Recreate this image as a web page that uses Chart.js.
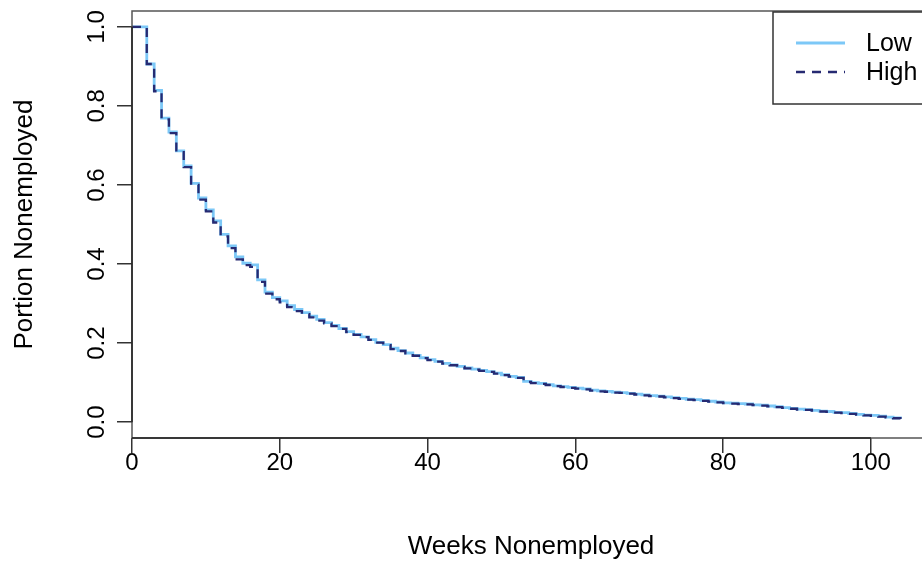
<!DOCTYPE html>
<html>
<head>
<meta charset="utf-8">
<title>Portion Nonemployed</title>
<script src="https://cdn.jsdelivr.net/npm/chart.js@4.4.0/dist/chart.umd.min.js"></script>
<style>
  html, body { margin: 0; padding: 0; background: #fff; overflow: hidden; }
  #wrap { width: 922px; height: 564px; overflow: hidden; }
  canvas { display: block; }
</style>
</head>
<body>
<div id="wrap"><canvas id="survChart" width="960" height="564"></canvas></div>
<script>
// Weeks since job loss (x) and share still nonemployed (y)
const weeks = [
  0, 1, 2, 3, 4, 5, 6, 7, 8, 9, 10, 11, 12, 13, 14, 15, 16, 17, 18, 19,
  20, 21, 22, 23, 24, 25, 26, 27, 28, 29, 30, 31, 32, 33, 34, 35, 36, 37, 38, 39,
  40, 41, 42, 43, 44, 45, 46, 47, 48, 49, 50, 51, 52, 53, 54, 55, 56, 57, 58, 59,
  60, 61, 62, 63, 64, 65, 66, 67, 68, 69, 70, 71, 72, 73, 74, 75, 76, 77, 78, 79,
  80, 81, 82, 83, 84, 85, 86, 87, 88, 89, 90, 91, 92, 93, 94, 95, 96, 97, 98, 99,
  100, 101, 102, 103, 104
];

const lowSurv = [
  1.000, 1.000, 0.906, 0.839, 0.769, 0.734, 0.686, 0.648, 0.604, 0.567, 0.537, 0.509, 0.475, 0.446, 0.418, 0.402, 0.398, 0.360, 0.329, 0.315,
  0.307, 0.295, 0.285, 0.277, 0.268, 0.260, 0.252, 0.245, 0.237, 0.229, 0.222, 0.216, 0.209, 0.202, 0.196, 0.187, 0.181, 0.175, 0.169, 0.163,
  0.158, 0.154, 0.149, 0.145, 0.141, 0.137, 0.134, 0.131, 0.128, 0.124, 0.120, 0.116, 0.113, 0.103, 0.100, 0.098, 0.095, 0.092, 0.090, 0.088,
  0.086, 0.084, 0.081, 0.079, 0.078, 0.076, 0.075, 0.073, 0.071, 0.069, 0.067, 0.066, 0.064, 0.062, 0.060, 0.058, 0.057, 0.055, 0.053, 0.051,
  0.049, 0.048, 0.047, 0.046, 0.044, 0.043, 0.041, 0.039, 0.037, 0.035, 0.033, 0.032, 0.030, 0.028, 0.027, 0.025, 0.024, 0.022, 0.020, 0.018,
  0.017, 0.015, 0.013, 0.011, 0.009
];

const highSurv = [
  1.000, 1.000, 0.906, 0.837, 0.766, 0.731, 0.683, 0.645, 0.600, 0.563, 0.533, 0.505, 0.470, 0.440, 0.412, 0.397, 0.393, 0.355, 0.325, 0.311,
  0.303, 0.291, 0.281, 0.273, 0.265, 0.257, 0.250, 0.243, 0.236, 0.228, 0.221, 0.215, 0.208, 0.201, 0.195, 0.185, 0.180, 0.174, 0.168, 0.162,
  0.157, 0.153, 0.148, 0.144, 0.140, 0.136, 0.133, 0.130, 0.127, 0.123, 0.119, 0.115, 0.112, 0.102, 0.099, 0.097, 0.094, 0.091, 0.089, 0.087,
  0.085, 0.083, 0.080, 0.078, 0.077, 0.075, 0.074, 0.072, 0.070, 0.068, 0.066, 0.065, 0.063, 0.061, 0.059, 0.057, 0.056, 0.054, 0.052, 0.050,
  0.048, 0.047, 0.046, 0.045, 0.043, 0.042, 0.040, 0.038, 0.036, 0.034, 0.032, 0.031, 0.029, 0.027, 0.026, 0.024, 0.023, 0.021, 0.019, 0.017,
  0.016, 0.014, 0.012, 0.010, 0.008
];

const seriesNames = ['Low', 'High'];
const xTicks = [0, 20, 40, 60, 80, 100];
const yTicks = [0, 0.2, 0.4, 0.6, 0.8, 1.0];

const FONT = '"Liberation Sans", Arial, Helvetica, sans-serif';
const LOW_COLOR = '#7cc8f7';
const HIGH_COLOR = '#262a72';

function toPoints(ys) {
  return weeks.map((w, i) => ({ x: w, y: ys[i] }));
}

// frame, axis lines and the boxed legend, R style
const framePlugin = {
  id: 'framePlugin',
  afterDatasetsDraw(chart) {
    const { ctx, chartArea: a, scales: { x, y } } = chart;
    ctx.save();

    ctx.strokeStyle = '#555';
    ctx.lineWidth = 1.5;
    ctx.strokeRect(a.left, a.top, a.right - a.left, a.bottom - a.top);

    ctx.strokeStyle = '#222';
    ctx.beginPath();
    ctx.moveTo(x.getPixelForValue(xTicks[0]), a.bottom);
    ctx.lineTo(x.getPixelForValue(xTicks[xTicks.length - 1]), a.bottom);
    ctx.moveTo(a.left, y.getPixelForValue(yTicks[0]));
    ctx.lineTo(a.left, y.getPixelForValue(yTicks[yTicks.length - 1]));
    ctx.stroke();

    // legend box
    const lx = 773, ly = a.top + 1, lw = 200, lh = 92;
    ctx.fillStyle = '#fff';
    ctx.fillRect(lx, ly, lw, lh);
    ctx.strokeStyle = '#333';
    ctx.lineWidth = 1.5;
    ctx.strokeRect(lx, ly, lw, lh);

    const rows = [43, 72];
    const legendOrder = [0, 1];
    legendOrder.forEach(i => {
      const ds = chart.data.datasets[i];
      ctx.strokeStyle = ds.borderColor;
      ctx.lineWidth = ds.borderWidth;
      ctx.setLineDash(ds.borderDash || []);
      ctx.beginPath();
      ctx.moveTo(796, rows[i]);
      ctx.lineTo(845, rows[i]);
      ctx.stroke();
      ctx.setLineDash([]);
      ctx.fillStyle = '#000';
      ctx.font = '25px ' + FONT;
      ctx.textBaseline = 'middle';
      ctx.textAlign = 'left';
      ctx.fillText(ds.label, 866, rows[i] + 1);
    });
    ctx.restore();
  }
};

const ctx = document.getElementById('survChart').getContext('2d');
const survChart = new Chart(ctx, {
  type: 'line',
  data: {
    datasets: [
      {
        label: seriesNames[0],
        data: toPoints(lowSurv),
        borderColor: LOW_COLOR,
        borderWidth: 2.8,
        stepped: 'before',
        pointRadius: 0,
        fill: false,
        order: 2
      },
      {
        label: seriesNames[1],
        data: toPoints(highSurv),
        borderColor: HIGH_COLOR,
        borderWidth: 2.3,
        borderDash: [9, 7],
        stepped: 'before',
        pointRadius: 0,
        fill: false,
        order: 1
      }
    ]
  },
  options: {
    responsive: false,
    animation: false,
    devicePixelRatio: 1,
    layout: { padding: { top: 11, right: 30, left: 0, bottom: 0 } },
    plugins: {
      legend: { display: false },
      tooltip: { enabled: false }
    },
    scales: {
      x: {
        type: 'linear',
        min: 0,
        max: 108,
        afterBuildTicks: s => { s.ticks = xTicks.map(v => ({ value: v })); },
        afterFit: s => { s.height = 126; s.paddingLeft = 0; s.paddingRight = 0; },
        border: { display: false },
        grid: { drawOnChartArea: false, drawTicks: true, tickLength: 15, color: '#333', lineWidth: 1.5 },
        ticks: {
          font: { family: FONT, size: 24 },
          color: '#000',
          padding: -4,
          maxRotation: 0,
          callback: v => String(v)
        },
        title: {
          display: true,
          text: 'Weeks Nonemployed',
          font: { family: FONT, size: 26 },
          color: '#000',
          padding: { top: 0, bottom: 1.5 }
        }
      },
      y: {
        type: 'linear',
        min: -0.04,
        max: 1.04,
        afterBuildTicks: s => { s.ticks = yTicks.map(v => ({ value: v })); },
        afterFit: s => { s.width = 132; s.paddingTop = 0; s.paddingBottom = 0; },
        border: { display: false },
        grid: { drawOnChartArea: false, drawTicks: true, tickLength: 15, color: '#333', lineWidth: 1.5 },
        ticks: {
          font: { family: FONT, size: 24 },
          color: '#000',
          padding: 3,
          minRotation: 90,
          maxRotation: 90,
          crossAlign: 'center',
          callback: v => v.toFixed(1)
        },
        title: {
          display: true,
          text: 'Portion Nonemployed',
          font: { family: FONT, size: 26 },
          color: '#000',
          padding: { top: 9.5, bottom: 0 }
        }
      }
    }
  },
  plugins: [framePlugin]
});
</script>
</body>
</html>
